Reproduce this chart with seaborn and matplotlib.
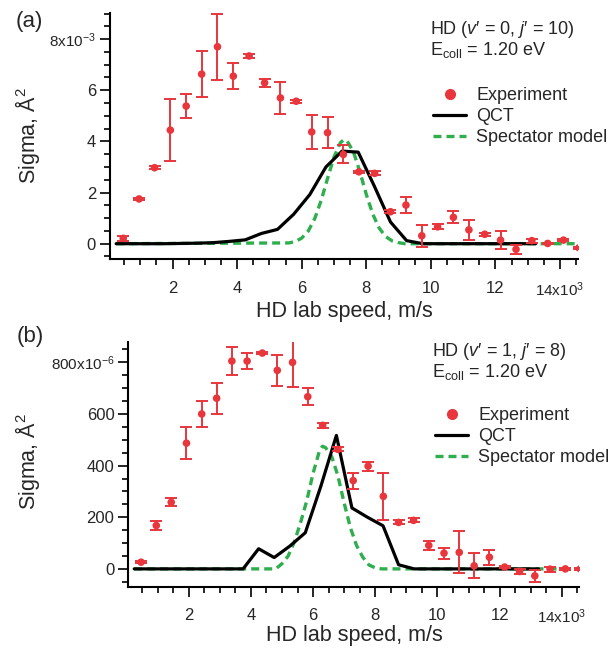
import matplotlib
matplotlib.use("Agg")
import matplotlib.pyplot as plt
from matplotlib.lines import Line2D
from matplotlib.ticker import MultipleLocator, FixedLocator, FixedFormatter
import seaborn as sns

# ---------------- data ----------------
# lab speed in units of 10^3 m/s
speed_exp = [0.47, 0.96, 1.44, 1.93, 2.42, 2.90, 3.39, 3.88, 4.37, 4.85,
             5.34, 5.83, 6.31, 6.80, 7.29, 7.77, 8.26, 8.75, 9.23, 9.72,
             10.21, 10.70, 11.18, 11.67, 12.16, 12.64, 13.13, 13.62, 14.11, 14.59]

# panel (a): sigma in 10^-3 A^2
a_exp = [0.21, 1.75, 2.97, 4.44, 5.38, 6.63, 7.70, 6.55, 7.34, 6.29,
         5.70, 5.57, 4.37, 4.34, 3.49, 2.81, 2.75, 1.25, 1.51, 0.31,
         0.66, 1.03, 0.54, 0.37, 0.14, -0.22, 0.12, 0.01, 0.14, -0.16]
a_err = [0.10, 0.05, 0.05, 1.22, 0.48, 0.89, 1.29, 0.52, 0.08, 0.16,
         0.61, 0.05, 0.66, 0.60, 0.35, 0.05, 0.08, 0.06, 0.31, 0.42,
         0.10, 0.24, 0.40, 0.06, 0.34, 0.17, 0.08, 0.03, 0.03, 0.05]

# panel (b): sigma in 10^-6 A^2
b_exp = [26, 168, 258, 487, 600, 661, 805, 805, 836, 769,
         800, 667, 556, 463, 342, 398, 281, 180, 188, 91,
         61, 64, 12, 45, 7, -10, -27, -1, 0, 0]
b_err = [5, 16, 15, 62, 52, 60, 53, 30, 5, 59,
         95, 33, 10, 8, 31, 17, 90, 8, 8, 16,
         21, 81, 48, 29, 5, 8, 22, 10, 4, 3]

# QCT curves
qct_speed = [0.25, 0.75, 1.25, 1.75, 2.25, 2.75, 3.25, 3.75, 4.25, 4.75,
             5.25, 5.75, 6.25, 6.75, 7.25, 7.75, 8.25, 8.75, 9.25, 9.75,
             10.25, 10.75, 11.25, 11.75, 12.25, 12.75, 13.25]
a_qct = [0, 0, 0, 0, 0.01, 0.02, 0.04, 0.09, 0.15, 0.40,
         0.56, 1.15, 1.92, 3.00, 3.62, 3.58, 2.25, 0.85, 0.12, 0,
         0, 0, 0, 0, 0, 0, 0]
b_qct = [0, 0, 0, 0, 0, 0, 0, 0, 78, 44,
         88, 140, 320, 517, 236, 200, 167, 16, 0, 0,
         0, 0, 0, 0, 0, 0, 0]

# Spectator model curves
spec_a_speed = [0.25, 5.6, 5.8, 6.0, 6.2, 6.4, 6.6, 6.8, 7.0, 7.2, 7.3, 7.4,
                7.6, 7.8, 8.0, 8.2, 8.4, 8.6, 8.8, 9.0, 9.2, 14.6]
spec_a = [0, 0.03, 0.08, 0.22, 0.49, 0.97, 1.68, 2.55, 3.39, 3.95, 4.06, 4.03,
          3.60, 2.82, 1.93, 1.16, 0.61, 0.28, 0.11, 0.04, 0.0, 0]
spec_b_speed = [0.25, 4.8, 5.0, 5.2, 5.4, 5.6, 5.8, 6.0, 6.2, 6.3, 6.4,
                6.6, 6.8, 7.0, 7.2, 7.4, 7.6, 7.8, 8.0, 8.2, 14.6]
spec_b = [0, 0, 20, 50, 105, 180, 265, 370, 455, 475, 470,
          435, 360, 255, 160, 90, 45, 15, 4, 0, 0]

x_ticks = [2, 4, 6, 8, 10, 12, 14]
x_ticklabels = ["2", "4", "6", "8", "10", "12", r"14x10$^{3}$"]
a_yticks = [0, 2, 4, 6, 8]
a_yticklabels = ["0", "2", "4", "6", r"8x10$^{-3}$"]
b_yticks = [0, 200, 400, 600, 800]
b_yticklabels = ["0", "200", "400", "600", r"800x10$^{-6}$"]

legend_labels = ["Experiment", "QCT", "Spectator model"]
panel_texts = [
    ("(a)", r"HD ($v$′ = 0, $j$′ = 10)", r"E$_{\mathrm{coll}}$ = 1.20 eV"),
    ("(b)", r"HD ($v$′ = 1, $j$′ = 8)", r"E$_{\mathrm{coll}}$ = 1.20 eV"),
]

# ---------------- style ----------------
sns.set_style("ticks")
plt.rcParams["font.family"] = ["Liberation Sans", "DejaVu Sans"]
plt.rcParams["mathtext.fontset"] = "custom"
plt.rcParams["mathtext.rm"] = "Liberation Sans"
plt.rcParams["mathtext.it"] = "Liberation Sans:italic"
plt.rcParams["mathtext.bf"] = "Liberation Sans:bold"

RED = "#E8363C"
GREEN = "#2FAE4E"
BLACK = "#000000"
DASH = (0, (2.4, 1.5))

W, H = 616, 648
fig = plt.figure(figsize=(W / 100, H / 100), dpi=100)


def px_rect(l, t, r, b):
    return [l / W, 1 - b / H, (r - l) / W, (b - t) / H]


def fx(x):
    return x / W


def fy(y):
    return 1 - y / H


ax_a = fig.add_axes(px_rect(110, 13, 578, 259.3))
ax_b = fig.add_axes(px_rect(128.3, 341.7, 579.3, 586.7))

panels = [
    (ax_a, a_exp, a_err, a_qct, spec_a_speed, spec_a, a_yticks, a_yticklabels,
     (-0.61, 9.02), 0.5, 8.0),
    (ax_b, b_exp, b_err, b_qct, spec_b_speed, spec_b, b_yticks, b_yticklabels,
     (-69, 880), 50, 7.5),
]

for ax, yexp, yerr, yqct, sspd, sval, yt, ytl, ylim, yminor, xpad in panels:
    ax.errorbar(speed_exp, yexp, yerr=yerr, fmt="none", ecolor=RED,
                elinewidth=1.4, capsize=4.2, capthick=1.4, zorder=3)
    sns.scatterplot(x=speed_exp, y=yexp, ax=ax, color=RED, s=30,
                    edgecolor="none", linewidth=0, zorder=4)
    sns.lineplot(x=sspd, y=sval, ax=ax, color=GREEN, lw=2.4,
                 linestyle=DASH, zorder=2, estimator=None, sort=False)
    sns.lineplot(x=qct_speed, y=yqct, ax=ax, color=BLACK, lw=2.3,
                 zorder=2.5, estimator=None, sort=False)

    ax.set_xlim(0.06, 14.56)
    ax.set_ylim(*ylim)
    ax.xaxis.set_major_locator(FixedLocator(x_ticks))
    ax.xaxis.set_major_formatter(FixedFormatter(x_ticklabels))
    ax.xaxis.set_minor_locator(MultipleLocator(0.5))
    ax.yaxis.set_major_locator(FixedLocator(yt))
    ax.yaxis.set_major_formatter(FixedFormatter(ytl))
    ax.yaxis.set_minor_locator(MultipleLocator(yminor))

    for side in ("top", "right"):
        ax.spines[side].set_visible(False)
    for side in ("left", "bottom"):
        ax.spines[side].set_linewidth(1.5)
        ax.spines[side].set_color("black")

    ax.tick_params(axis="both", which="major", direction="out", length=7.5,
                   width=1.2, color="black", labelsize=12)
    ax.tick_params(axis="both", which="minor", direction="out", length=4.5,
                   width=1.2, color="black")
    ax.tick_params(axis="x", which="major", pad=xpad)
    ax.tick_params(axis="y", which="major", pad=2.5)
    ax.set_xlabel("")
    ax.set_ylabel("")
    ax.grid(False)
    # the multiplier-bearing labels are a touch smaller in the original
    fig.canvas.draw()
    ax.get_yticklabels()[-1].set_fontsize(11)
    ax.get_xticklabels()[-1].set_fontsize(11)

# axis labels
fig.text(fx(344), fy(311), "HD lab speed, m/s", fontsize=15.5,
         ha="center", va="center")
fig.text(fx(354), fy(635), "HD lab speed, m/s", fontsize=15.5,
         ha="center", va="center")
fig.text(fx(27), fy(135), "Sigma, Å$^{2}$", fontsize=15.5, rotation=90,
         ha="center", va="center")
fig.text(fx(27), fy(461), "Sigma, Å$^{2}$", fontsize=15.5, rotation=90,
         ha="center", va="center")

# panel labels and annotations
panel_pos = [
    ((29, 21.7), (430, 30), (430, 50), (433, 87)),
    ((30, 336.7), (431.7, 351.7), (431.7, 371.7), (435, 407)),
]
handles = [
    Line2D([], [], color=RED, marker="o", linestyle="none", markersize=8,
           markeredgewidth=0),
    Line2D([], [], color=BLACK, lw=2.3),
    Line2D([], [], color=GREEN, lw=2.4, linestyle=DASH),
]
for (plabel, line1, line2), (pp, p1, p2, pl) in zip(panel_texts, panel_pos):
    fig.text(fx(pp[0]), fy(pp[1]), plabel, fontsize=16, ha="center",
             va="center")
    fig.text(fx(p1[0]), fy(p1[1]), line1, fontsize=13, ha="left",
             va="center")
    fig.text(fx(p2[0]), fy(p2[1]), line2, fontsize=13, ha="left",
             va="center")
    fig.legend(handles=handles, labels=legend_labels, loc="upper left",
               bbox_to_anchor=(fx(pl[0]), fy(pl[1])), frameon=False,
               fontsize=13, handlelength=1.85, handletextpad=0.55,
               labelspacing=0.22, borderpad=0, borderaxespad=0)

fig.savefig("out.png", dpi=100)
